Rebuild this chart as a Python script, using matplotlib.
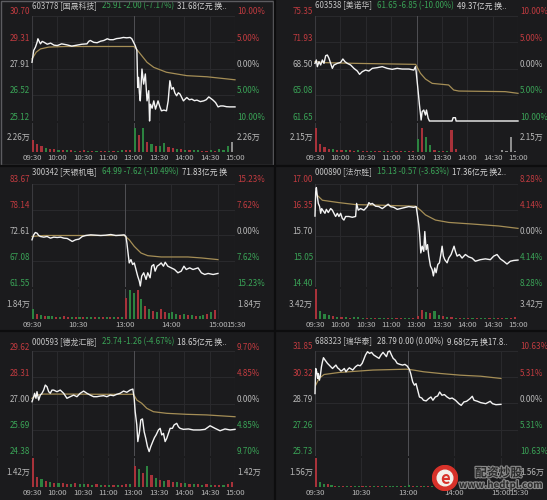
import matplotlib.pyplot as plt
import matplotlib.patheffects as pe
from matplotlib.patches import Circle, Rectangle
from matplotlib.lines import Line2D
import numpy as np

plt.rcParams['font.family'] = ['Noto Sans CJK SC', 'DejaVu Sans']

# ---------------- data (minutes after 09:30, 11:30/13:00 joined) ----------------
times_short = ['09:30', '10:00', '10:30', '11:00', '13:00', '13:30', '14:00', '14:30', '15:00']
times_long = ['09:30', '10:30', '13:00', '14:00', '15:00', '15:30']

# 603778 国晟科技
p1_head = ['603778 [国晟科技]', '25.91 -2.00 (-7.17%)', '31.68亿元 换..']
p1_levels = [30.70, 29.31, 27.91, 26.52, 25.12]
p1_pct = ['10.00%', '5.00%', '0.00%', '5.00%', '10.00%']
p1_vol_label = 2.26
p1_t = [0, 2, 4, 6, 7, 8, 10, 12, 14, 18,
        22, 26, 30, 35, 41, 47, 53, 59, 65, 67,
        69, 73, 77, 81, 85, 89, 92, 96, 100, 104,
        108, 112, 116, 118, 120, 122, 124, 125, 126, 127,
        128, 130, 132, 134, 136, 138, 139, 140, 142, 144,
        146, 149, 151, 153, 156, 159, 161, 163, 165, 167,
        169, 171, 173, 175, 179, 183, 186, 189, 192, 195,
        199, 203, 206, 209, 212, 214, 217, 220, 223, 226,
        230, 234, 240]
p1_price = [28.24, 28.87, 29.04, 29.30, 29.49, 29.40, 29.22, 29.35, 29.31, 29.20,
            29.26, 29.15, 29.13, 29.22, 29.17, 29.10, 29.15, 29.20, 29.22, 29.35,
            29.40, 29.30, 29.28, 29.36, 29.40, 29.49, 29.44, 29.44, 29.50, 29.52,
            29.56, 29.54, 29.56, 29.49, 29.31, 29.13, 28.87, 26.90, 27.44, 26.60,
            26.19, 27.88, 27.08, 27.62, 26.19, 26.73, 25.12, 26.01, 25.80, 26.19,
            25.75, 26.19, 25.90, 25.66, 25.70, 25.66, 26.19, 27.26, 26.81, 26.90,
            26.60, 26.46, 26.62, 26.55, 26.19, 26.37, 26.25, 26.28, 26.20, 26.23,
            26.15, 26.19, 26.25, 26.40, 26.30, 26.23, 26.10, 25.87, 25.92, 25.92,
            25.88, 25.87, 25.87]
p1_avg_t = [0, 5, 10, 20, 40, 120, 122, 128, 136, 144, 159, 183, 207, 240]
p1_avg = [28.42, 28.78, 28.95, 29.05, 29.08, 29.08, 29.03, 28.69, 28.24, 27.97, 27.71, 27.53, 27.47, 27.31]
p1_vol = [1.8, 1.2, 0.9, 0.7, 0.5, 0.4, 0.35, 0.3, 0.3, 0.25, 0.2, 0.2, 0.25, 0.2, 0.2, 0.15, 0.2, 0.15, 0.2, 0.15, 0.2, 0.25, 0.3, 0.35,
          3.7, 2.6, 3.7, 1.6, 1.2, 1.0, 0.9, 1.4, 0.8, 0.6, 0.5, 0.4, 0.35, 0.3, 0.3, 0.25, 0.2, 0.2, 0.25, 0.2, 0.4, 0.3, 1.0, 1.5]
p1_dir = "+++-++-+-+-++-+-++-+--++" + "-+-+-+--++-+-+--++-+---0"

# 603538 美诺华
p2_head = ['603538 [美诺华]', '61.65 -6.85 (-10.00%)', '49.37亿元 换..']
p2_levels = [75.35, 71.93, 68.50, 65.08, 61.65]
p2_pct = ['10.00%', '5.00%', '0.00%', '5.00%', '10.00%']
p2_vol_label = 2.15
p2_t = [0, 1.6, 2.8, 4.7, 6.7, 8.7, 10.6, 12.6, 14.6, 16.5,
        18.5, 20.5, 22.4, 26.4, 30.3, 33, 35.4, 38.2, 42.1, 46,
        50, 52.7, 55.9, 59.8, 63.7, 67.7, 73.6, 79.5, 85.4, 91.3,
        97.2, 103, 111, 116.8, 118.8, 119.6, 121.6, 123.5, 125.5, 126.7,
        128.6, 130.6, 131.8, 133.8, 135.3, 162, 163.3, 166, 166.8, 240]
p2_price = [69.17, 69.61, 68.74, 69.39, 68.96, 69.61, 69.17, 70.17, 70.26, 69.83,
            69.17, 68.52, 68.96, 69.17, 69.30, 69.74, 69.39, 69.17, 68.96, 68.52,
            68.17, 67.74, 68.09, 68.30, 68.17, 68.52, 68.61, 68.74, 68.52, 68.39,
            68.52, 68.43, 68.43, 68.30, 68.74, 68.09, 65.91, 63.74, 61.78, 62.87,
            63.08, 62.43, 63.08, 62.00, 61.65, 61.65, 62.08, 62.08, 61.65, 61.65]
p2_avg_t = [0, 12.6, 48, 119, 124.7, 130.6, 138.5, 158, 164, 170, 225, 240]
p2_avg = [69.39, 69.26, 69.17, 69.04, 67.87, 67.13, 66.56, 66.35, 65.69, 65.56, 65.48, 65.26]
p2_vol = [3.5, 1.2, 0.7, 0.5, 0.4, 0.3, 0.35, 0.25, 0.3, 0.2, 0.25, 0.2, 0.2, 0.15, 0.2, 0.15, 0.15, 0.2, 0.15, 0.15, 0.1, 0.15, 0.15, 0.2,
          2.0, 3.5, 2.2, 1.0, 0.3, 0.15, 0.1, 0.1, 3.2, 0.4, 0.05, 0.05, 0.05, 0.05, 0.05, 0.05, 0.05, 0.05, 0.05, 0.05, 0.3, 0.1, 2.2, 0.2]
p2_dir = "++++-++-++-++-++-+-++-++" + "-+--+-+-++00000000000000"

# 300342 天银机电
p3_head = ['300342 [天银机电]', '64.99 -7.62 (-10.49%)', '71.83亿元 换']
p3_levels = [83.67, 78.14, 72.61, 67.08, 61.55]
p3_pct = ['15.23%', '7.62%', '0.00%', '7.62%', '15.23%']
p3_vol_label = 1.84
p3_t = [0, 2.2, 4.3, 6.5, 8.7, 10.8, 15.2, 19.5, 23.8, 28.1,
        32.5, 36.8, 41.1, 45.5, 49.8, 51.9, 56.3, 60.6, 64.9, 69.3,
        75.8, 82.3, 88.7, 95.2, 101.7, 108.2, 114.7, 119, 121.2, 122.5,
        124.2, 125.5, 127.7, 129.9, 132, 134.2, 136.4, 138.5, 139.8, 141.6,
        144.2, 147.2, 149.4, 152.4, 154.5, 157.1, 158.9, 161.5, 164.5, 166.7,
        169.7, 171.9, 175.3, 179.7, 184, 188.3, 192.6, 196.1, 199.1, 203.5,
        207.8, 214.3, 218.6, 222.9, 227.3, 233.8, 240]
p3_price = [71.69, 72.75, 73.25, 73.11, 72.61, 72.40, 72.26, 72.40, 72.04, 72.26,
            72.18, 72.26, 72.04, 71.97, 71.55, 71.33, 71.69, 71.83, 72.40, 72.61,
            72.75, 72.68, 72.61, 72.68, 72.82, 72.61, 72.68, 72.75, 72.40, 70.98,
            68.50, 66.72, 67.43, 66.37, 66.72, 65.31, 63.89, 62.83, 61.76, 63.89,
            64.60, 63.18, 64.60, 63.53, 66.02, 66.37, 64.95, 66.02, 66.37, 66.72,
            66.02, 66.87, 66.02, 65.66, 65.31, 64.60, 64.95, 66.02, 65.31, 65.66,
            65.31, 65.66, 64.60, 64.24, 64.46, 64.24, 64.46]
p3_avg_t = [0, 15.2, 119, 125.5, 132, 140.7, 149.4, 166.7, 201.3, 218.6, 240]
p3_avg = [72.40, 72.61, 72.61, 71.69, 70.27, 68.85, 68.28, 68.00, 68.00, 67.79, 67.43]
p3_vol = [1.2, 0.6, 0.5, 0.4, 0.4, 0.35, 0.3, 0.3, 0.35, 0.3, 0.3, 0.25, 0.3, 0.25, 0.2, 0.25, 0.2, 0.2, 0.25, 0.2, 0.2, 0.25, 0.2, 0.3,
          2.6, 3.6, 3.2, 3.6, 2.4, 1.6, 1.2, 1.0, 0.9, 1.2, 0.8, 0.7, 0.8, 0.6, 0.5, 0.6, 0.5, 0.5, 0.4, 0.4, 0.5, 0.6, 0.8, 1.1]
p3_dir = "-+-+--+-++-+-+--+-+-+-+-" + "+--+-+-+-++---+-+-+--+-+"

# 000890 法尔胜
p4_head = ['000890 [法尔胜]', '15.13 -0.57 (-3.63%)', '17.36亿元 换2..']
p4_levels = [17.00, 16.35, 15.70, 15.05, 14.40]
p4_pct = ['8.28%', '4.14%', '0.00%', '4.14%', '8.28%']
p4_vol_label = 3.42
p4_t = [0, 0.8, 1.6, 2.8, 3.9, 5.5, 6.7, 7.9, 9.4, 11.8,
        13.4, 15.7, 18.5, 20.5, 22.4, 24.4, 26.4, 28.3, 30.3, 32.3,
        34.2, 36.2, 40.1, 44.1, 48, 49.2, 51.1, 53.9, 57.8, 61.8,
        63.7, 65.7, 67.7, 71.6, 75.5, 79.5, 83.4, 86.5, 89.3, 93.2,
        97.2, 101.1, 105, 110.9, 116.8, 119.6, 120.8, 122.7, 123.9, 125.1,
        126.7, 128.6, 129.8, 131.4, 133, 134.5, 136.5, 138.5, 140, 141.6,
        143.2, 145.2, 147.1, 149.1, 150.3, 151.8, 153.4, 156.2, 158.1, 160.9,
        162.9, 164.4, 166, 168, 170.7, 173.9, 177.8, 181.7, 185.7, 189.6,
        195.5, 201.4, 207.3, 211.3, 215.2, 219.1, 223.1, 227, 230.9, 234.9, 240]
p4_price = [16.19, 16.80, 16.91, 16.68, 16.51, 16.43, 16.26, 16.38, 16.33, 16.26,
            16.36, 16.28, 16.38, 16.34, 16.26, 16.18, 16.26, 16.18, 16.26, 16.13,
            16.09, 16.18, 16.18, 16.16, 16.18, 16.51, 16.34, 16.38, 16.34, 16.43,
            16.53, 16.49, 16.51, 16.44, 16.43, 16.38, 16.44, 16.49, 16.43, 16.41,
            16.36, 16.38, 16.40, 16.43, 16.41, 16.43, 16.26, 15.97, 15.68, 15.26,
            15.43, 15.30, 15.80, 15.34, 15.47, 15.18, 14.93, 14.84, 14.68, 14.88,
            14.76, 14.97, 15.01, 15.26, 15.43, 15.18, 15.09, 15.01, 15.13, 15.22,
            15.34, 15.43, 15.30, 15.18, 15.22, 15.13, 15.22, 15.16, 15.13, 15.05,
            15.09, 15.11, 15.09, 15.18, 15.22, 15.11, 15.05, 14.98, 15.05, 15.07, 15.08]
p4_avg_t = [1, 8.7, 28.3, 48, 67.7, 118.8, 124.7, 130.6, 142.4, 158.1, 185.7, 217.1, 240]
p4_avg = [16.75, 16.59, 16.53, 16.48, 16.47, 16.44, 16.34, 16.22, 16.09, 16.03, 15.99, 15.94, 15.88]
p4_vol = [6.8, 1.8, 1.2, 0.8, 0.6, 0.5, 0.4, 0.4, 0.3, 0.35, 0.5, 0.3, 0.3, 0.25, 0.3, 0.2, 0.25, 0.2, 0.2, 0.15, 0.2, 0.15, 0.2, 0.2,
          0.6, 2.1, 1.6, 1.4, 1.8, 1.0, 0.6, 0.5, 0.4, 0.3, 0.3, 0.3, 0.2, 0.2, 0.2, 0.2, 0.15, 0.2, 0.15, 0.15, 0.2, 0.2, 0.3, 0.5]
p4_dir = "+---+-+-+---+-+--+-++--+" + "++-+--+-+-+-+-+--+-++-++"

# 000593 德龙汇能
p5_head = ['000593 [德龙汇能]', '25.74 -1.26 (-4.67%)', '18.65亿元 换..']
p5_levels = [29.62, 28.31, 27.00, 25.69, 24.38]
p5_pct = ['9.70%', '4.85%', '0.00%', '4.85%', '9.70%']
p5_vol_label = 1.42
p5_t = [0, 2, 3.1, 4.7, 5.9, 7.9, 9.8, 11.8, 13.8, 15.7,
        17.7, 19.7, 21.6, 23.6, 25.6, 29.5, 33.4, 37.4, 41.3, 45.2,
        49.2, 53.1, 57, 61, 64.9, 68.8, 72.8, 76.7, 80.6, 84.6,
        88.5, 92.4, 96.4, 100.3, 104.2, 108.2, 112.1, 116, 119.2, 120.8,
        122, 123.9, 125.1, 127.1, 128.6, 130.6, 132.6, 134.5, 136.5, 138.5,
        140.4, 142.8, 144.8, 146.7, 149.5, 151.5, 153.4, 155.4, 157.4, 159.3,
        161.3, 163.3, 166, 168, 171.1, 173.1, 175.1, 179, 184.9, 190.8,
        198.7, 204.6, 210.5, 216.4, 222.3, 228.2, 234.1, 240]
p5_price = [27.09, 27.34, 27.51, 27.26, 27.59, 27.17, 27.42, 27.51, 27.67, 27.92,
            27.84, 27.59, 27.51, 27.67, 27.67, 27.59, 27.67, 27.51, 27.26, 27.34,
            27.42, 27.34, 27.51, 27.62, 27.51, 27.42, 27.34, 27.34, 27.37, 27.39,
            27.34, 27.42, 27.39, 27.46, 27.51, 27.62, 27.56, 27.67, 27.72, 27.26,
            26.59, 25.93, 25.10, 25.59, 26.18, 26.23, 25.59, 25.26, 24.85, 24.60,
            24.85, 25.10, 25.30, 25.43, 25.68, 25.76, 25.43, 25.51, 25.10, 25.26,
            25.51, 25.76, 25.76, 25.93, 26.01, 25.84, 25.76, 25.71, 25.73, 25.68,
            25.68, 25.71, 25.89, 25.76, 25.64, 25.73, 25.68, 25.71]
p5_avg_t = [0, 5.9, 13.8, 41.3, 80.6, 120, 124, 129.8, 135.7, 143.6, 159.3, 182.9, 206.5, 240]
p5_avg = [27.26, 27.42, 27.47, 27.47, 27.46, 27.46, 27.17, 27.01, 26.76, 26.59, 26.51, 26.46, 26.43, 26.34]
p5_vol = [2.8, 1.0, 0.8, 0.6, 0.5, 0.4, 0.4, 0.35, 0.3, 0.3, 0.35, 0.3, 0.25, 0.3, 0.2, 0.25, 0.2, 0.2, 0.2, 0.15, 0.2, 0.2, 0.25, 0.3,
          2.1, 1.8, 1.4, 2.1, 1.2, 0.9, 0.7, 0.6, 0.7, 0.5, 0.5, 0.4, 0.35, 0.3, 0.3, 0.25, 0.2, 0.25, 0.2, 0.2, 0.2, 0.2, 0.3, 0.5]
p5_dir = "++-+-+-++-+--+-+-+-+-++-" + "+-+-+-+-++-+-+-+-+-++-++"

# 688323 瑞华泰
p6_head = ['688323 [瑞华泰]', '28.79 0.00 (0.00%)', '9.68亿元 换17.8..']
p6_levels = [31.85, 30.32, 28.79, 27.26, 25.73]
p6_pct = ['10.63%', '5.31%', '0.00%', '5.31%', '10.63%']
p6_vol_label = 1.56
p6_t = [0, 0.9, 2.2, 3.5, 4.3, 5.7, 7, 8.3, 9.6, 10.9,
        13, 16.1, 18.3, 20.4, 22.6, 24.8, 27, 29.1, 31.3, 33.5,
        35.7, 37.8, 40, 42.2, 44.3, 48.7, 52.2, 55.2, 58.3, 60.9,
        62.6, 65.2, 67.8, 70.4, 73, 75.7, 79.1, 82.6, 85.2, 87.8,
        90, 92.2, 94.3, 96.5, 98.7, 100.9, 103.5, 106.1, 109.6, 113,
        116.1, 119.1, 121.7, 123.5, 126.1, 128.3, 130.4, 132.6, 134.8, 137.8,
        140, 143.5, 146.5, 149.6, 152.2, 155.2, 158.3, 160.9, 163.9, 167,
        170.4, 173.9, 177, 181.3, 185.7, 188.7, 192.2, 195.7, 200, 203,
        205.2, 209.6, 213.9, 220.4, 226.1, 229.1, 233.5, 240]
p6_price = [29.37, 30.83, 30.64, 30.25, 30.54, 30.15, 30.44, 30.93, 31.22, 31.46,
            31.32, 31.13, 31.03, 30.93, 30.83, 30.93, 31.03, 30.87, 30.79, 30.68,
            30.74, 30.83, 30.64, 30.77, 30.87, 30.74, 30.93, 31.03, 30.99, 31.13,
            31.32, 31.62, 31.81, 31.71, 31.77, 31.62, 31.52, 31.42, 31.62, 31.77,
            31.65, 31.52, 31.81, 31.85, 31.62, 31.42, 31.32, 31.13, 31.07, 31.03,
            31.07, 30.97, 30.79, 30.54, 30.05, 29.86, 29.95, 29.56, 29.17, 29.11,
            28.98, 28.94, 29.07, 29.17, 28.98, 29.17, 29.23, 29.46, 29.27, 29.31,
            29.17, 29.07, 29.11, 28.98, 28.78, 28.68, 28.88, 28.92, 29.07, 29.21,
            28.98, 28.92, 28.84, 28.78, 28.92, 28.78, 28.72, 28.74]
p6_avg_t = [0.9, 5.2, 11.7, 31.3, 74.8, 118.3, 127, 140, 161.7, 187.8, 213.9, 240]
p6_avg = [29.86, 30.25, 30.48, 30.60, 30.74, 30.79, 30.74, 30.64, 30.54, 30.44, 30.38, 30.25]
p6_vol = [3.1, 0.5, 0.35, 0.3, 0.2, 0.15, 0.15, 0.1, 0.12, 0.1, 0.1, 0.08, 0.1, 0.08, 0.08, 0.1, 0.08, 0.06, 0.08, 0.06, 0.06, 0.06, 0.08, 0.08,
          0.2, 0.15, 0.12, 0.1, 0.1, 0.08, 0.08, 0.06, 0.06, 0.06, 0.05, 0.05, 0.05, 0.05, 0.05, 0.05, 0.05, 0.05, 0.05, 0.05, 0.05, 0.05, 0.06, 0.1]
p6_dir = "+--+-+-+-+--+-+-+-+---+-" + "-+-+-+--+-+-+-+-+-+-+-++"

# ---------------- drawing ----------------
W, H = 547, 500
BG = '#1b1b1d'
GRID = '#2a2a2d'
RED = '#c23b40'
GREEN = '#3aa457'
GREY = '#b8b8b8'
VOLC = {'+': '#a8323a', '-': '#2c8440', '0': '#8e8e8e'}

fig = plt.figure(figsize=(W / 100, H / 100), dpi=100, facecolor=BG)


def px_axes(x0, y0, x1, y1):
    ax = fig.add_axes([x0 / W, 1 - y1 / H, (x1 - x0) / W, (y1 - y0) / H])
    ax.set_facecolor('none')
    for s in ax.spines.values():
        s.set_visible(False)
    ax.set_xticks([])
    ax.set_yticks([])
    return ax


COLS = [(32, 235), (315, 518)]
ROWS = [(6, 16, 121, 123, 152), (172, 184, 287, 289, 319), (342, 351, 456, 458, 487)]

panels = [
    (0, 0, p1_head, p1_levels, p1_pct, p1_vol_label, p1_t, p1_price, p1_avg_t, p1_avg, p1_vol, p1_dir, False),
    (1, 0, p2_head, p2_levels, p2_pct, p2_vol_label, p2_t, p2_price, p2_avg_t, p2_avg, p2_vol, p2_dir, False),
    (0, 1, p3_head, p3_levels, p3_pct, p3_vol_label, p3_t, p3_price, p3_avg_t, p3_avg, p3_vol, p3_dir, True),
    (1, 1, p4_head, p4_levels, p4_pct, p4_vol_label, p4_t, p4_price, p4_avg_t, p4_avg, p4_vol, p4_dir, False),
    (0, 2, p5_head, p5_levels, p5_pct, p5_vol_label, p5_t, p5_price, p5_avg_t, p5_avg, p5_vol, p5_dir, False),
    (1, 2, p6_head, p6_levels, p6_pct, p6_vol_label, p6_t, p6_price, p6_avg_t, p6_avg, p6_vol, p6_dir, True),
]

for col, row, head, levels, pct, vlab, t, price, at, avg, vol, vdir, longday in panels:
    x0, x1 = COLS[col]
    ty, top, bot, vtop, vbot = ROWS[row]
    xmax = 262 if longday else 240
    if longday:
        tick_pos = [0, 60, 120, 180, 240]
        tick_lab = times_long
    else:
        tick_pos = list(range(0, 241, 30))
        tick_lab = times_short

    ax = px_axes(x0, top, x1, bot)
    av = px_axes(x0, vtop, x1, vbot)
    ax.set_xlim(0, xmax)
    av.set_xlim(0, xmax)
    ax.set_ylim(levels[-1], levels[0])
    av.set_ylim(0, vlab * 2)

    # grid
    for lv in levels:
        ax.axhline(lv, color=GRID, lw=0.7, zorder=0)
    for a in (ax, av):
        for tp in tick_pos[1:]:
            a.axvline(tp, color='#505054' if tp == 120 else GRID, lw=0.7, zorder=0)
        a.axvline(0, color='#3a3a3e', lw=0.8, zorder=0)
        a.axvline(xmax, color='#3a3a3e', lw=0.8, zorder=0)

    ax.plot(at, avg, color='#a58e56', lw=0.9, zorder=2, clip_on=False)
    ax.plot(t, price, color='#f4f4f4', lw=1.0, zorder=3, clip_on=False)

    starts = np.arange(len(vol)) * 5
    av.bar(starts, vol, width=2.6, align='edge', color=[VOLC[c] for c in vdir], zorder=2)

    # price / percent labels
    for i, (lv, pl) in enumerate(zip(levels, pct)):
        c = RED if i < 2 else (GREY if i == 2 else GREEN)
        ax.annotate('%.2f' % lv, xy=(0, lv), xycoords=('axes fraction', 'data'),
                    xytext=(-2, 4), textcoords='offset pixels', ha='right', va='center',
                    fontsize=5.8, color=c, annotation_clip=False)
        ax.annotate(pl, xy=(1, lv), xycoords=('axes fraction', 'data'),
                    xytext=(2, 4), textcoords='offset pixels', ha='left', va='center',
                    fontsize=5.8, color=c, annotation_clip=False)
    for xf, ha, dx in ((0, 'right', -2), (1, 'left', 2)):
        av.annotate('%.2f万' % vlab, xy=(xf, vlab), xycoords=('axes fraction', 'data'),
                    xytext=(dx, 0), textcoords='offset pixels', ha=ha, va='center',
                    fontsize=5.8, color=GREY, annotation_clip=False)

    # time labels
    for tp, tl in zip(tick_pos, tick_lab):
        av.annotate(tl, xy=(tp, 0), xycoords='data', xytext=(0, -6), textcoords='offset pixels',
                    ha='center', va='center', fontsize=5.6, color=GREY, annotation_clip=False)
    if longday:
        av.annotate(tick_lab[-1], xy=(xmax, 0), xycoords='data', xytext=(11, -6), textcoords='offset pixels',
                    ha='right', va='center', fontsize=5.6, color=GREY, annotation_clip=False)

    # title
    quote_color = GREEN if '-' in head[1] else '#d0d0d0'
    t1 = fig.text(x0 / W, 1 - ty / H, head[0], fontsize=5.7, color='#c4c4c4', va='center', ha='left')
    t2 = ax.annotate(head[1], xy=(1, 0.5), xycoords=t1, xytext=(5, 0), textcoords='offset pixels',
                     fontsize=5.7, color=quote_color, va='center', ha='left')
    ax.annotate(head[2], xy=(1, 0.5), xycoords=t2, xytext=(3, 0), textcoords='offset pixels',
                fontsize=5.7, color='#d4d4d4', va='center', ha='left')

# panel separators and selected-panel frame
for xs in (275,):
    fig.add_artist(Line2D([xs / W, xs / W], [0, 1], transform=fig.transFigure, color='#0d0d0e', lw=1.6))
for ys in (166, 331):
    fig.add_artist(Line2D([0, 1], [1 - ys / H, 1 - ys / H], transform=fig.transFigure, color='#0d0d0e', lw=1.6))
fig.add_artist(Rectangle((0.5 / W, 1 - 165 / H), 272 / W, 164.5 / H, transform=fig.transFigure,
                         fill=False, ec='#5c5c60', lw=1.0))

# watermark
lg = px_axes(432, 465, 458, 491)
lg.set_xlim(0, 1)
lg.set_ylim(0, 1)
lg.add_patch(Circle((0.5, 0.5), 0.48, color='#d8322a'))
lg.add_patch(Circle((0.5, 0.5), 0.3, color='#f3f0ea'))
lg.text(0.5, 0.47, 'e', ha='center', va='center', fontsize=12, fontweight='bold', color='#d8322a')
stroke = [pe.withStroke(linewidth=1.6, foreground='#8a8a8a')]
fig.text(475 / W, 1 - 473 / H, '配资炒股', fontsize=8.5, fontweight='bold', color='#2a2a2a',
         va='center', ha='left', path_effects=stroke)
fig.text(459 / W, 1 - 485 / H, 'www.hedtpl.com', fontsize=7, fontweight='bold', color='#2a2a2a',
         va='center', ha='left', path_effects=stroke)

fig.savefig('out.png', dpi=100, facecolor=BG)
